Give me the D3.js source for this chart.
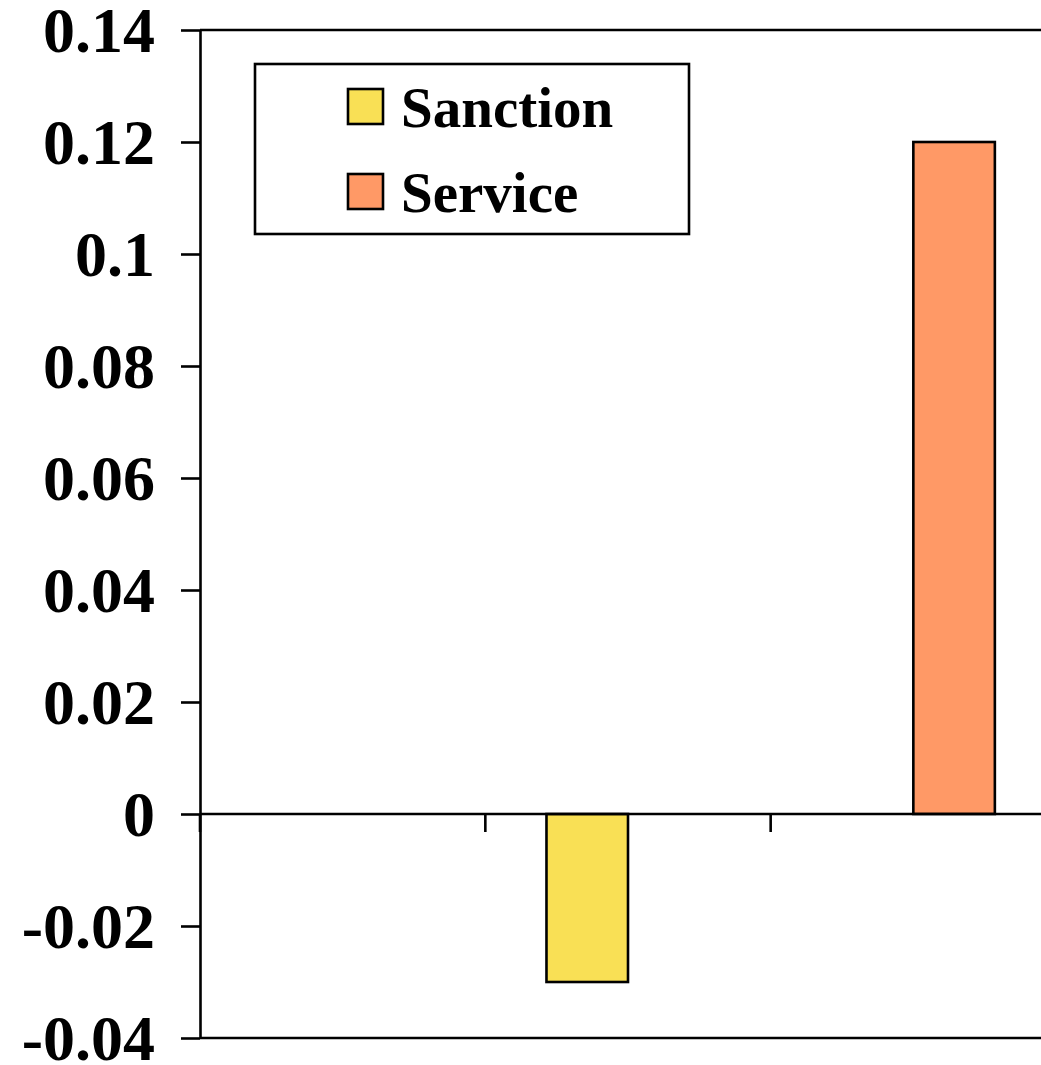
<!DOCTYPE html>
<html>
<head>
<meta charset="utf-8">
<script src="https://cdn.jsdelivr.net/npm/d3@7"></script>
<style>
  html, body { margin: 0; padding: 0; background: #fff; }
  svg { display: block; }
  text { font-family: "Liberation Serif", "Times New Roman", serif; font-weight: bold; fill: #000; }
</style>
</head>
<body>
<svg id="chart" width="1041" height="1065"></svg>
<script>
// Data
const categories = ["Group 1", "Group 2", "Group 3"];
const seriesNames = ["Sanction", "Service"];
const sanctionValues = [null, -0.03, null];
const serviceValues = [null, null, 0.12];
const tickValues = [0.14, 0.12, 0.1, 0.08, 0.06, 0.04, 0.02, 0, -0.02, -0.04];
const tickLabels = ["0.14", "0.12", "0.1", "0.08", "0.06", "0.04", "0.02", "0", "-0.02", "-0.04"];
const seriesColors = ["#F9E055", "#FF9966"];

const LINE_W = 2.6;
const svg = d3.select("#chart");
const plot = { left: 200, right: 1056, top: 30, bottom: 1038 };

const y = d3.scaleLinear().domain([-0.04, 0.14]).range([plot.bottom, plot.top]);
const x = d3.scaleBand().domain(categories).range([plot.left, plot.right]).paddingInner(0).paddingOuter(0);
const xs = d3.scaleBand().domain(seriesNames).range([0, x.step()]).paddingInner(0).paddingOuter(0.75);
const color = d3.scaleOrdinal().domain(seriesNames).range(seriesColors);

// Plot frame: top and bottom border lines
svg.append("line")
  .attr("x1", plot.left).attr("x2", plot.right)
  .attr("y1", plot.top).attr("y2", plot.top)
  .attr("stroke", "#000").attr("stroke-width", LINE_W);
svg.append("line")
  .attr("x1", plot.left).attr("x2", plot.right)
  .attr("y1", plot.bottom).attr("y2", plot.bottom)
  .attr("stroke", "#000").attr("stroke-width", LINE_W);

// Bars
const rows = categories.map((c, i) => ({ cat: c, Sanction: sanctionValues[i], Service: serviceValues[i] }));
const barData = [];
rows.forEach(r => seriesNames.forEach(s => { if (r[s] !== null) barData.push({ cat: r.cat, series: s, value: r[s] }); }));

svg.append("g").selectAll("rect")
  .data(barData)
  .join("rect")
  .attr("x", d => x(d.cat) + xs(d.series))
  .attr("width", xs.bandwidth())
  .attr("y", d => y(Math.max(0, d.value)))
  .attr("height", d => Math.abs(y(d.value) - y(0)))
  .attr("fill", d => color(d.series))
  .attr("stroke", "#000")
  .attr("stroke-width", LINE_W);

// Category axis along zero
const xAxis = d3.axisBottom(x).tickSize(0).tickFormat("");
const xg = svg.append("g").attr("transform", `translate(0,${y(0)})`).call(xAxis);
xg.select(".domain").attr("stroke", "#000").attr("stroke-width", LINE_W).attr("d", `M${plot.left},0H${plot.right}`);
xg.selectAll(".tick").remove();
xg.selectAll(".boundary")
  .data(categories)
  .join("line")
  .attr("class", "boundary")
  .attr("x1", d => x(d)).attr("x2", d => x(d))
  .attr("y1", 0).attr("y2", 18)
  .attr("stroke", "#000").attr("stroke-width", LINE_W);

// Value axis
const yAxis = d3.axisLeft(y)
  .tickValues(tickValues)
  .tickFormat((d, i) => tickLabels[i])
  .tickSizeInner(19)
  .tickSizeOuter(0)
  .tickPadding(26);
const yg = svg.append("g").attr("transform", `translate(${plot.left},0)`).call(yAxis);
yg.select(".domain").attr("stroke", "#000").attr("stroke-width", LINE_W);
yg.selectAll(".tick line").attr("stroke", "#000").attr("stroke-width", LINE_W);
yg.selectAll(".tick text")
  .attr("font-family", "'Liberation Serif', 'Times New Roman', serif")
  .attr("font-weight", "bold")
  .attr("font-size", 64)
  .attr("fill", "#000")
  .attr("dy", "0.33em");

// Legend
const legend = svg.append("g");
legend.append("rect")
  .attr("x", 255).attr("y", 64).attr("width", 434).attr("height", 170)
  .attr("fill", "#fff").attr("stroke", "#000").attr("stroke-width", LINE_W);
const items = legend.selectAll("g.item")
  .data(seriesNames)
  .join("g")
  .attr("class", "item")
  .attr("transform", (d, i) => `translate(0,${i * 85})`);
items.append("rect")
  .attr("x", 348).attr("y", 89).attr("width", 35).attr("height", 35)
  .attr("fill", d => color(d)).attr("stroke", "#000").attr("stroke-width", LINE_W);
items.append("text")
  .attr("x", 401).attr("y", 127)
  .attr("font-size", 57)
  .text(d => d);
</script>
</body>
</html>
